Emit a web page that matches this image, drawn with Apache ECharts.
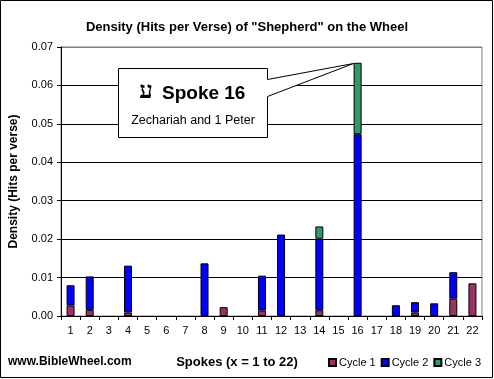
<!DOCTYPE html>
<html><head><meta charset="utf-8">
<script src="https://cdn.jsdelivr.net/npm/echarts@6/dist/echarts.min.js"></script>
<style>html,body{margin:0;padding:0;background:#fff}#c{width:494px;height:379px}</style>
</head><body><div id="c"></div>
<script>
const categories = ['1','2','3','4','5','6','7','8','9','10','11','12','13','14','15','16','17','18','19','20','21','22'];
const cycle1 = [0.0027,0.0016,null,0.0009,null,null,null,null,0.0023,null,0.0014,null,null,0.0015,null,null,null,null,0.0009,null,0.0045,0.0085];
const cycle2 = [0.0053,0.0087,null,0.0122,null,null,null,0.0137,null,null,0.0091,0.0212,null,0.0186,null,0.0473,null,0.0028,0.0027,0.0033,0.0069,null];
const cycle3 = [null,null,null,null,null,null,null,null,null,null,null,null,null,0.0032,null,0.0186,null,null,null,null,null,null];
const seriesNames = ['Cycle 1','Cycle 2','Cycle 3'];
const colors = ['#993366','#0000FF','#339966'];
const yTicks = [0,0.01,0.02,0.03,0.04,0.05,0.06,0.07];

const F = 'Arial, "Liberation Sans", sans-serif';
const chart = echarts.init(document.getElementById('c'), null, {renderer:'canvas'});
const mk = (name, data, i) => ({
  name, type:'bar', stack:'s', data, barWidth:8,
  itemStyle:{color:colors[i], borderColor:'#000', borderWidth:1},
  emphasis:{disabled:true}, animation:false
});
chart.setOption({
  animation:false,
  title:{text:'Density (Hits per Verse) of "Shepherd" on the Wheel', left:'center', top:16,
    textStyle:{fontFamily:F, fontSize:13, fontWeight:'bold', color:'#000'}},
  grid:{left:58, right:12, top:47, bottom:63, show:true, borderColor:'#808080', borderWidth:1, backgroundColor:'#fff'},
  legend:{data:seriesNames, left:328, top:357, width:166, padding:0, itemWidth:7, itemHeight:7, itemGap:5, icon:'rect',
    textStyle:{fontFamily:F, fontSize:11, color:'#000', padding:[0,0,0,-2]}},
  xAxis:{type:'category', data:categories, boundaryGap:true,
    axisLine:{lineStyle:{color:'#000', width:1}},
    axisTick:{show:true, interval:0, length:4, lineStyle:{color:'#000'}},
    axisLabel:{interval:0, margin:9, fontFamily:F, fontSize:11, color:'#000'}},
  yAxis:{type:'value', min:0, max:0.07, interval:0.01,
    name:'Density (Hits per verse)', nameLocation:'middle', nameGap:41, nameRotate:90,
    nameTextStyle:{fontFamily:F, fontSize:12, fontWeight:'bold', color:'#000'},
    axisLine:{show:true, lineStyle:{color:'#000'}},
    axisTick:{show:true, length:4, lineStyle:{color:'#000'}},
    axisLabel:{margin:8, fontFamily:F, fontSize:11, color:'#000', formatter:v=>v.toFixed(2)},
    splitLine:{show:true, lineStyle:{color:['#000','#000','#000','#000','#000','#000','#000','#808080'], width:1}}},
  series:[mk(seriesNames[0],cycle1,0), mk(seriesNames[1],cycle2,1), mk(seriesNames[2],cycle3,2)]
});

function drawCallout(){
  const idx = 15;
  const total = (cycle1[idx]||0)+(cycle2[idx]||0)+(cycle3[idx]||0);
  const p = chart.convertToPixel({gridIndex:0}, [idx, total]);
  const tipX = Math.round(p[0]) - 4.5, tipY = Math.round(p[1]) + 0.5;
  const bx = 118.5, by = 68.5, bw = 149, bh = 69;
  chart.setOption({graphic:[
    {type:'rect', shape:{x:0.5,y:0.5,width:492,height:377}, style:{fill:'none', stroke:'#000', lineWidth:1}, silent:true, z:100},
    {type:'polygon', z:50, shape:{points:[[bx,by],[bx+bw,by],[bx+bw,by+11],[tipX,tipY],[bx+bw,by+28],[bx+bw,by+bh],[bx,by+bh]]},
      style:{fill:'#fff', stroke:'#000', lineWidth:1}},
    {type:'text', z:51, style:{text:'ע', x:146, y:92, fontSize:24, fontWeight:'bold', fontFamily:'"DejaVu Serif", serif', fill:'#000', align:'center', verticalAlign:'middle'}},
    {type:'text', z:51, style:{text:'Spoke 16', x:162, y:94, fontSize:19, fontWeight:'bold', fontFamily:F, fill:'#000', align:'left', verticalAlign:'middle'}},
    {type:'text', z:51, style:{text:'Zechariah and 1 Peter', x:193, y:121, fontSize:12.5, fontFamily:F, fill:'#000', align:'center', verticalAlign:'middle'}},
    {type:'text', style:{text:'www.BibleWheel.com', x:8, y:362, fontSize:12, fontWeight:'bold', fontFamily:F, fill:'#000', align:'left', verticalAlign:'middle'}},
    {type:'text', style:{text:'Spokes (x = 1 to 22)', x:237, y:362, fontSize:13, fontWeight:'bold', fontFamily:F, fill:'#000', align:'center', verticalAlign:'middle'}}
  ]});
}
drawCallout();
</script>
</body></html>
